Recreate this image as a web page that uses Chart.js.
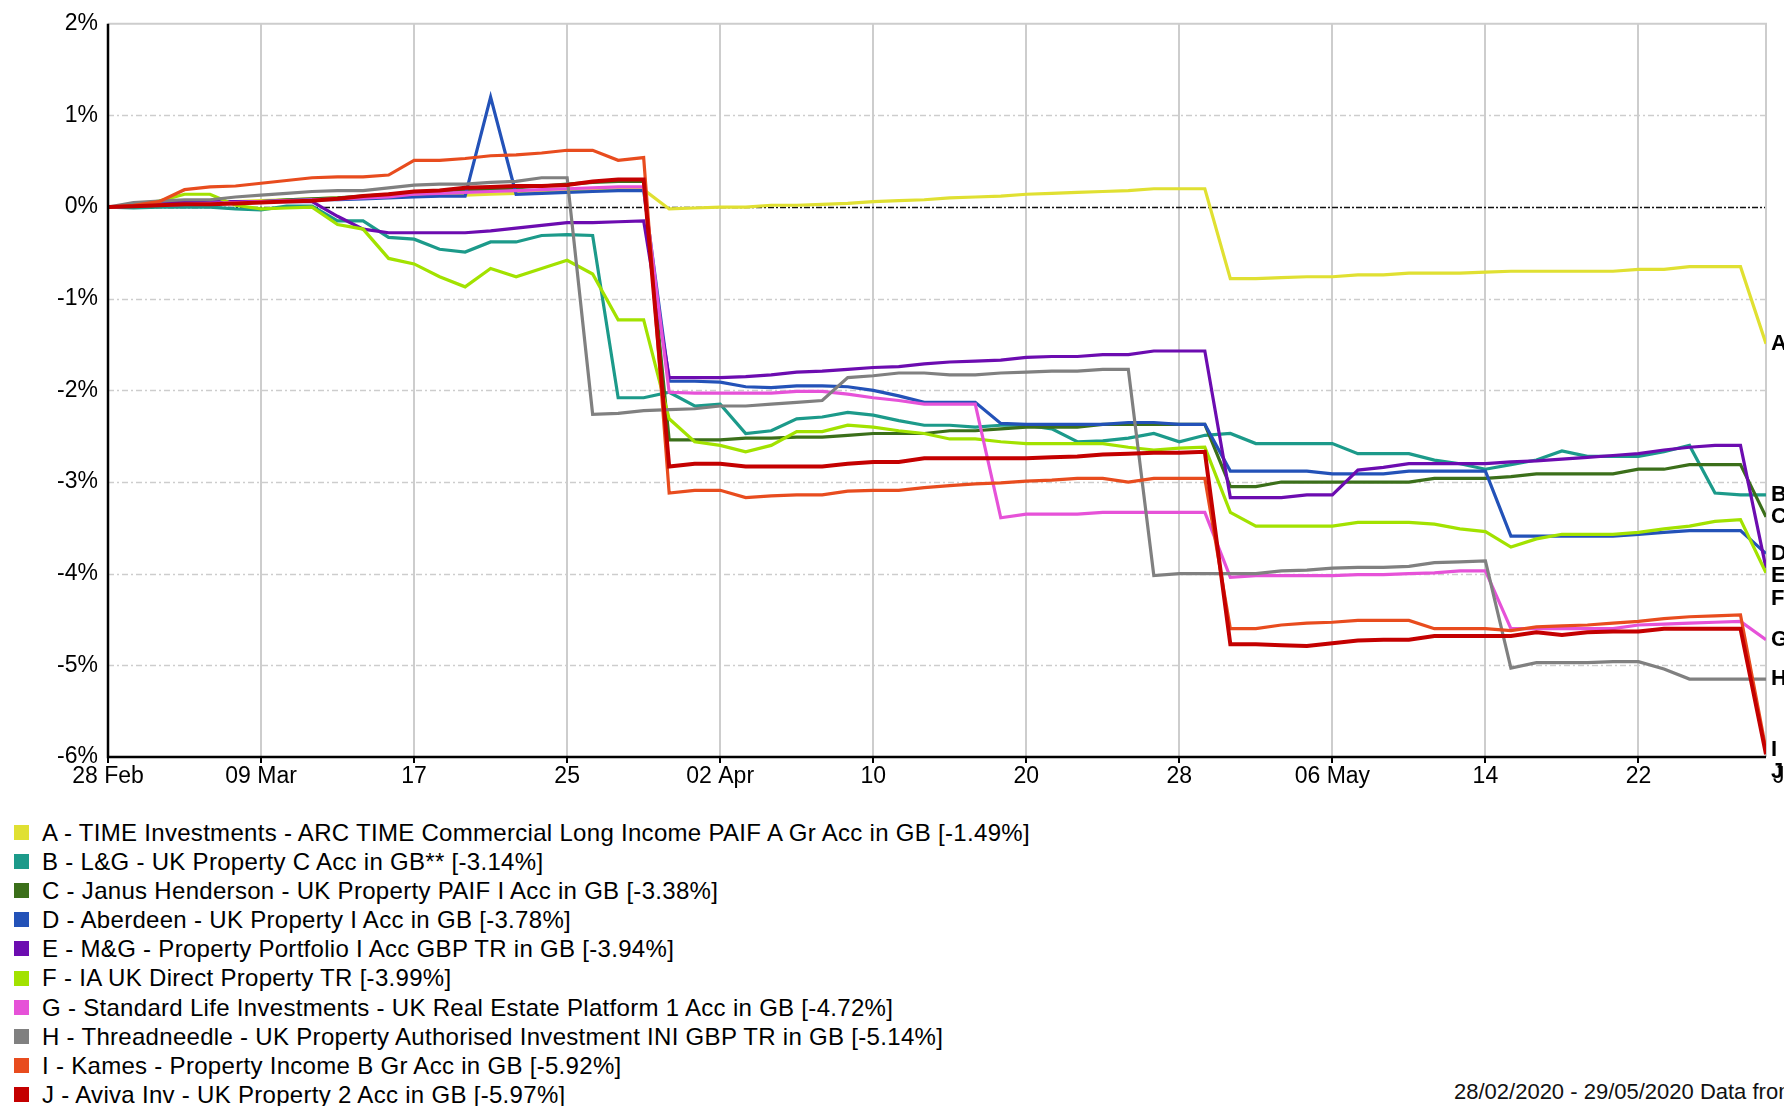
<!DOCTYPE html>
<html>
<head>
<meta charset="utf-8">
<title>UK Property funds 28/02/2020 - 29/05/2020</title>
<script src="https://cdn.jsdelivr.net/npm/chart.js@4.4.1/dist/chart.umd.min.js"></script>
<style>
    html, body { margin: 0; padding: 0; background: #fff; width: 1784px; height: 1106px; overflow: hidden; }
    body { position: relative; font-family: 'Liberation Sans', Arial, sans-serif; color: #000; }
    #wrap { position: absolute; left: 0; top: 0; width: 1784px; height: 800px; }
    #legend { position: absolute; left: 14px; top: 818px; font-size: 24px; letter-spacing: 0.3px; line-height: 29.1px; white-space: nowrap; }
    #legend .row { display: flex; align-items: center; height: 29.1px; }
    #legend .box { width: 15px; height: 15px; margin-right: 13px; flex: none; }
    #footer { position: absolute; left: 1454px; top: 1079px; font-size: 22px; white-space: nowrap; color: #111; }
</style>
</head>
<body>
<div id="wrap"><canvas id="chart"></canvas></div>
<div id="legend"></div>
<div id="footer">28/02/2020 - 29/05/2020 Data from FE fundinfo2020</div>
<script>
'use strict';

// ── Trading days on the x axis (index 0 … 65) ──
const days = ['28 Feb',
    '02 Mar', '03 Mar', '04 Mar', '05 Mar', '06 Mar', '09 Mar', '10 Mar', '11 Mar', '12 Mar', '13 Mar', '16 Mar',
    '17 Mar', '18 Mar', '19 Mar', '20 Mar', '23 Mar', '24 Mar', '25 Mar', '26 Mar', '27 Mar', '30 Mar', '31 Mar',
    '01 Apr', '02 Apr', '03 Apr', '06 Apr', '07 Apr', '08 Apr', '09 Apr', '10 Apr', '13 Apr', '14 Apr', '15 Apr',
    '16 Apr', '17 Apr', '20 Apr', '21 Apr', '22 Apr', '23 Apr', '24 Apr', '27 Apr', '28 Apr', '29 Apr', '30 Apr',
    '01 May', '04 May', '05 May', '06 May', '07 May', '08 May', '11 May', '12 May', '13 May', '14 May', '15 May',
    '18 May', '19 May', '20 May', '21 May', '22 May', '25 May', '26 May', '27 May', '28 May', '29 May'];

// tick positions (day index) and their labels; the last one falls past the end
const tickIdx    = [0, 6, 12, 18, 24, 30, 36, 42, 48, 54, 60, 66];
const tickLabels = ['28 Feb', '09 Mar', '17', '25', '02 Apr', '10', '20', '28', '06 May', '14', '22', 'Jun'];
const yTicks     = [2, 1, 0, -1, -2, -3, -4, -5, -6];

// ── Series (cumulative % return) ──
const seriesLetters = ['A', 'B', 'C', 'D', 'E', 'F', 'G', 'H', 'I', 'J'];
const seriesNames = [
    'A - TIME Investments - ARC TIME Commercial Long Income PAIF A Gr Acc in GB [-1.49%]',
    'B - L&G - UK Property C Acc in GB** [-3.14%]',
    'C - Janus Henderson - UK Property PAIF I Acc in GB [-3.38%]',
    'D - Aberdeen - UK Property I Acc in GB [-3.78%]',
    'E - M&G - Property Portfolio I Acc GBP TR in GB [-3.94%]',
    'F - IA UK Direct Property TR [-3.99%]',
    'G - Standard Life Investments - UK Real Estate Platform 1 Acc in GB [-4.72%]',
    'H - Threadneedle - UK Property Authorised Investment INI GBP TR in GB [-5.14%]',
    'I - Kames - Property Income B Gr Acc in GB [-5.92%]',
    'J - Aviva Inv - UK Property 2 Acc in GB [-5.97%]'
];
const seriesColors = ['#e0e032', '#1c9a8a', '#3b6f1a', '#2352b8', '#6c0cb0',
                      '#a2e200', '#e652d8', '#808080', '#e84c1e', '#c40000'];

const valsA = [0, 0.02, 0.03, 0.04, 0.05, 0.06, 0.07, 0.08, 0.09, 0.1, 0.1, 0.11, 0.12, 0.13, 0.13, 0.14, 0.15, 0.16, 0.17, 0.18, 0.19, 0.19,
    -0.02, -0.01, 0, 0, 0.02, 0.02, 0.03, 0.04, 0.06, 0.07, 0.08, 0.1, 0.11, 0.12, 0.14, 0.15, 0.16, 0.17, 0.18, 0.2, 0.2, 0.2,
    -0.78, -0.78, -0.77, -0.76, -0.76, -0.74, -0.74, -0.72, -0.72, -0.72, -0.71, -0.7, -0.7, -0.7, -0.7, -0.7, -0.68, -0.68, -0.65, -0.65, -0.65, -1.49];
const valsB = [0, -0.01, 0, 0, 0, -0.02, -0.03, 0.01, 0.01, -0.15, -0.15, -0.33, -0.35, -0.46, -0.49, -0.38, -0.38, -0.31, -0.3, -0.31, -2.08, -2.08,
    -2.02, -2.17, -2.15, -2.47, -2.44, -2.31, -2.29, -2.24, -2.27, -2.33, -2.38, -2.38, -2.4, -2.38, -2.38, -2.42, -2.56, -2.55, -2.52, -2.47, -2.56, -2.49,
    -2.47, -2.58, -2.58, -2.58, -2.58, -2.69, -2.69, -2.69, -2.76, -2.8, -2.86, -2.81, -2.76, -2.66, -2.72, -2.72, -2.72, -2.67, -2.6, -3.12, -3.14, -3.14];
const valsC = [0, 0.01, 0.02, 0.03, 0.04, 0.05, 0.06, 0.08, 0.09, 0.1, 0.12, 0.14, 0.16, 0.17, 0.18, 0.19, 0.21, 0.23, 0.25, 0.27, 0.28, 0.28,
    -2.54, -2.54, -2.54, -2.52, -2.52, -2.51, -2.51, -2.49, -2.47, -2.47, -2.47, -2.44, -2.44, -2.42, -2.4, -2.4, -2.4, -2.37, -2.37, -2.37, -2.37, -2.37,
    -3.05, -3.05, -3.0, -3.0, -3.0, -3.0, -3.0, -3.0, -2.96, -2.96, -2.96, -2.94, -2.91, -2.91, -2.91, -2.91, -2.86, -2.86, -2.81, -2.81, -2.81, -3.38];
const valsD = [0, 0.01, 0.02, 0.03, 0.04, 0.05, 0.06, 0.07, 0.08, 0.08, 0.09, 0.1, 0.11, 0.12, 0.12, 1.2, 0.14, 0.15, 0.16, 0.17, 0.18, 0.18,
    -1.9, -1.9, -1.91, -1.96, -1.97, -1.95, -1.95, -1.96, -2.0, -2.06, -2.13, -2.13, -2.13, -2.36, -2.37, -2.37, -2.37, -2.37, -2.35, -2.35, -2.37, -2.37,
    -2.88, -2.88, -2.88, -2.88, -2.91, -2.91, -2.91, -2.88, -2.88, -2.88, -2.88, -3.59, -3.59, -3.59, -3.59, -3.59, -3.57, -3.55, -3.53, -3.53, -3.53, -3.78];
const valsE = [0, 0.02, 0.05, 0.06, 0.06, 0.06, 0.06, 0.06, 0.06, -0.1, -0.24, -0.28, -0.28, -0.28, -0.28, -0.26, -0.23, -0.2, -0.17, -0.17, -0.16, -0.15,
    -1.86, -1.86, -1.86, -1.85, -1.83, -1.8, -1.79, -1.77, -1.75, -1.74, -1.71, -1.69, -1.68, -1.67, -1.64, -1.63, -1.63, -1.61, -1.61, -1.57, -1.57, -1.57,
    -3.17, -3.17, -3.17, -3.14, -3.14, -2.87, -2.84, -2.8, -2.8, -2.8, -2.8, -2.78, -2.77, -2.75, -2.73, -2.71, -2.69, -2.65, -2.62, -2.6, -2.6, -3.94];
const valsF = [0, 0.02, 0.065, 0.14, 0.14, 0.02, -0.02, -0.01, 0, -0.19, -0.24, -0.56, -0.62, -0.76, -0.87, -0.67, -0.76, -0.67, -0.58, -0.73, -1.23, -1.23,
    -2.31, -2.56, -2.6, -2.67, -2.6, -2.45, -2.45, -2.38, -2.4, -2.44, -2.47, -2.53, -2.53, -2.56, -2.58, -2.58, -2.58, -2.58, -2.62, -2.65, -2.63, -2.62,
    -3.33, -3.48, -3.48, -3.48, -3.48, -3.44, -3.44, -3.44, -3.46, -3.51, -3.54, -3.71, -3.62, -3.57, -3.57, -3.57, -3.55, -3.51, -3.48, -3.43, -3.41, -3.99];
const valsG = [0, 0.01, 0.02, 0.03, 0.04, 0.05, 0.06, 0.07, 0.08, 0.09, 0.1, 0.11, 0.14, 0.15, 0.16, 0.17, 0.18, 0.19, 0.2, 0.21, 0.22, 0.22,
    -2.02, -2.03, -2.03, -2.03, -2.03, -2.01, -2.01, -2.04, -2.08, -2.11, -2.15, -2.15, -2.15, -3.39, -3.35, -3.35, -3.35, -3.33, -3.33, -3.33, -3.33, -3.33,
    -4.04, -4.02, -4.02, -4.02, -4.02, -4.01, -4.01, -4.0, -3.99, -3.97, -3.97, -4.6, -4.6, -4.6, -4.6, -4.6, -4.56, -4.55, -4.54, -4.53, -4.52, -4.72];
const valsH = [0, 0.05, 0.065, 0.08, 0.08, 0.11, 0.13, 0.15, 0.17, 0.18, 0.18, 0.21, 0.24, 0.25, 0.25, 0.27, 0.28, 0.32, 0.32, -2.26, -2.25, -2.22,
    -2.21, -2.2, -2.17, -2.17, -2.15, -2.13, -2.11, -1.86, -1.84, -1.81, -1.81, -1.83, -1.83, -1.81, -1.8, -1.79, -1.79, -1.77, -1.77, -4.02, -4.0, -4.0,
    -4.0, -4.0, -3.97, -3.96, -3.94, -3.93, -3.93, -3.92, -3.88, -3.87, -3.86, -5.03, -4.97, -4.97, -4.97, -4.96, -4.96, -5.04, -5.15, -5.15, -5.15, -5.15];
const valsI = [0, 0.02, 0.06, 0.19, 0.22, 0.23, 0.26, 0.29, 0.32, 0.33, 0.33, 0.35, 0.51, 0.51, 0.53, 0.56, 0.57, 0.59, 0.62, 0.62, 0.51, 0.54,
    -3.12, -3.09, -3.09, -3.17, -3.15, -3.14, -3.14, -3.1, -3.09, -3.09, -3.06, -3.04, -3.02, -3.01, -2.99, -2.98, -2.96, -2.96, -3.0, -2.96, -2.96, -2.96,
    -4.6, -4.6, -4.56, -4.54, -4.53, -4.51, -4.51, -4.51, -4.6, -4.6, -4.6, -4.62, -4.58, -4.57, -4.56, -4.54, -4.52, -4.49, -4.47, -4.46, -4.45, -5.92];
const valsJ = [0, 0.01, 0.02, 0.03, 0.03, 0.04, 0.05, 0.06, 0.07, 0.09, 0.12, 0.14, 0.17, 0.18, 0.21, 0.22, 0.23, 0.23, 0.24, 0.28, 0.3, 0.3,
    -2.83, -2.8, -2.8, -2.83, -2.83, -2.83, -2.83, -2.8, -2.78, -2.78, -2.74, -2.74, -2.74, -2.74, -2.74, -2.73, -2.72, -2.7, -2.69, -2.68, -2.68, -2.67,
    -4.77, -4.77, -4.78, -4.79, -4.76, -4.73, -4.72, -4.72, -4.68, -4.68, -4.68, -4.68, -4.64, -4.67, -4.64, -4.63, -4.63, -4.6, -4.6, -4.6, -4.6, -5.97];

const seriesValues = [valsA, valsB, valsC, valsD, valsE, valsF, valsG, valsH, valsI, valsJ];

// ── Layout constants (pixels) ──
const FONT = "'Liberation Sans', Arial, sans-serif";
const PLOT_LEFT = 108, PLOT_RIGHT_PAD = 18, PLOT_TOP = 16, X_AXIS_H = 43;
const GRID_GREY = '#cdcdcd';

// Frame, dash-dot grid, end letters and the clipped "Jun" tick
const framePlugin = {
    id: 'frame',
    beforeDatasetsDraw(chart) {
        const { ctx, chartArea: a, scales: { y } } = chart;
        ctx.save();
        ctx.lineWidth = 1.5;
        yTicks.forEach(v => {
            if (v === yTicks[0] || v === yTicks[yTicks.length - 1]) return;
            const py = Math.round(y.getPixelForValue(v)) + 0.5;
            ctx.strokeStyle = v === 0 ? '#111' : GRID_GREY;
            ctx.setLineDash(v === 0 ? [6, 2, 2, 2] : [6, 3, 2, 3]);
            ctx.beginPath();
            ctx.moveTo(a.left, py);
            ctx.lineTo(a.right, py);
            ctx.stroke();
        });
        ctx.setLineDash([]);
        ctx.strokeStyle = GRID_GREY;
        ctx.lineWidth = 2;
        ctx.beginPath();
        ctx.moveTo(a.left, a.top);
        ctx.lineTo(a.right, a.top);
        ctx.lineTo(a.right, a.bottom);
        ctx.stroke();
        ctx.restore();
    },
    afterDatasetsDraw(chart) {
        const { ctx, chartArea: a, scales: { x, y } } = chart;
        ctx.save();
        // black axes
        ctx.strokeStyle = '#000';
        ctx.lineWidth = 2.5;
        ctx.beginPath();
        ctx.moveTo(a.left, a.top);
        ctx.lineTo(a.left, a.bottom);
        ctx.lineTo(a.right, a.bottom);
        ctx.stroke();

        // letters at the end of each line, pushed apart when they collide
        const ends = seriesValues.map((vals, i) => ({
            letter: seriesLetters[i],
            py: y.getPixelForValue(vals[vals.length - 1])
        })).sort((p, q) => p.py - q.py);
        let last = -Infinity;
        ctx.fillStyle = '#000';
        ctx.font = `bold 22px ${FONT}`;
        ctx.textAlign = 'left';
        ctx.textBaseline = 'middle';
        ends.forEach(e => {
            const py = Math.max(e.py, last + 22.5);
            ctx.fillText(e.letter, a.right + 5, py);
            last = py;
        });

        // tick labels that fall beyond the last day (cut by the page edge)
        ctx.font = `23px ${FONT}`;
        ctx.textAlign = 'center';
        tickIdx.forEach((t, k) => {
            if (t <= x.max) return;
            ctx.fillText(tickLabels[k], x.getPixelForValue(t), a.bottom + 6 + 13.8);
        });
        ctx.restore();
    }
};

document.addEventListener('DOMContentLoaded', () => {
    // legend (HTML)
    const legend = document.getElementById('legend');
    seriesNames.forEach((name, i) => {
        const row = document.createElement('div');
        row.className = 'row';
        const box = document.createElement('span');
        box.className = 'box';
        box.style.background = seriesColors[i];
        const txt = document.createElement('span');
        txt.textContent = name;
        row.append(box, txt);
        legend.appendChild(row);
    });

    const datasets = seriesValues.map((vals, i) => ({
        label: seriesNames[i],
        data: vals.map((v, k) => ({ x: k, y: v })),
        borderColor: seriesColors[i],
        backgroundColor: seriesColors[i],
        borderWidth: i === 9 ? 4 : 3.2,
        pointRadius: 0,
        tension: 0,
        order: seriesValues.length - i
    }));

    new Chart(document.getElementById('chart'), {
        type: 'line',
        data: { datasets },
        plugins: [framePlugin],
        options: {
            responsive: true,
            maintainAspectRatio: false,
            animation: false,
            layout: { padding: { left: 0, right: PLOT_RIGHT_PAD, top: PLOT_TOP, bottom: 0 } },
            plugins: {
                legend: { display: false },
                tooltip: {
                    callbacks: { title: items => days[items[0].parsed.x] }
                }
            },
            scales: {
                x: {
                    type: 'linear',
                    min: 0,
                    max: days.length - 1,
                    afterBuildTicks: s => { s.ticks = tickIdx.filter(t => t <= s.max).map(t => ({ value: t })); },
                    afterFit: s => { s.height = X_AXIS_H; },
                    grid: { color: GRID_GREY, lineWidth: 2, tickColor: '#000', tickLength: 6, drawTicks: true },
                    border: { display: false },
                    ticks: {
                        autoSkip: false,
                        maxRotation: 0,
                        padding: 0,
                        color: '#000',
                        font: { family: FONT, size: 23 },
                        callback: v => tickLabels[tickIdx.indexOf(v)] ?? ''
                    }
                },
                y: {
                    min: yTicks[yTicks.length - 1],
                    max: yTicks[0],
                    afterBuildTicks: s => { s.ticks = yTicks.map(v => ({ value: v })); },
                    afterFit: s => { s.width = PLOT_LEFT; },
                    grid: { display: false, drawTicks: false, tickLength: 0 },
                    border: { display: false },
                    ticks: {
                        padding: 10,
                        color: '#000',
                        font: { family: FONT, size: 23 },
                        callback: v => `${v}%`
                    }
                }
            }
        }
    });
});
</script>
</body>
</html>
